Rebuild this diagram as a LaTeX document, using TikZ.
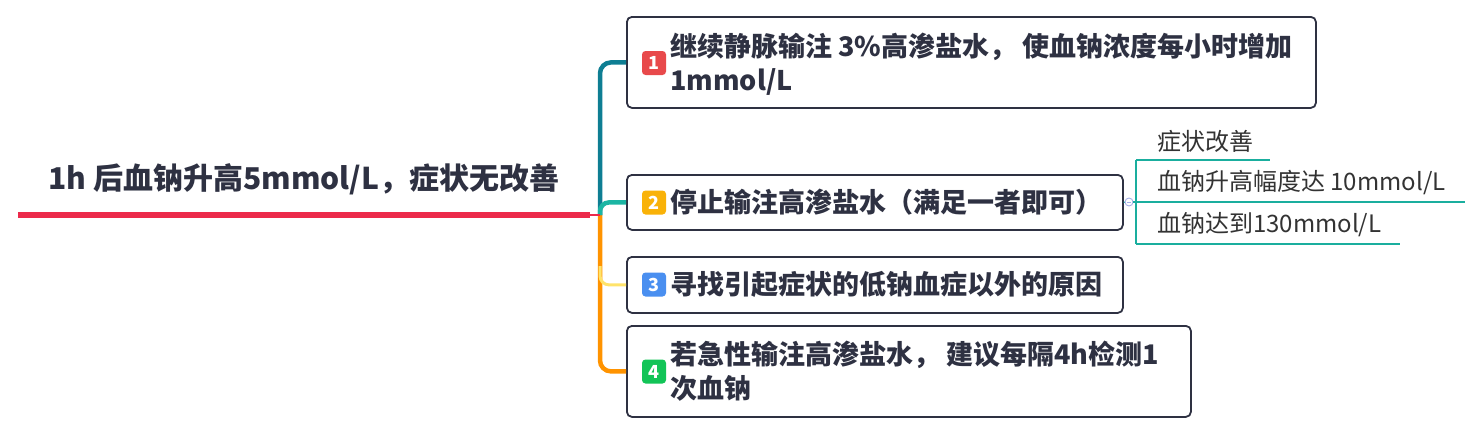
\documentclass[tikz,border=0pt]{standalone}
\usepackage{fontspec}
\setmainfont{Noto Sans CJK SC}
\definecolor{textc}{HTML}{2E3142}
\definecolor{rootred}{HTML}{EC2A4B}
\definecolor{tealA}{HTML}{0E7E93}
\definecolor{tealB}{HTML}{1BB5A3}
\definecolor{yelA}{HTML}{FFE36A}
\definecolor{oraA}{HTML}{FF9300}
\definecolor{bRed}{HTML}{E8494B}
\definecolor{bOra}{HTML}{F9B208}
\definecolor{bBlue}{HTML}{4A8FF0}
\definecolor{bGreen}{HTML}{12C457}
\definecolor{subc}{HTML}{1AAE9E}
\definecolor{circc}{HTML}{A7B0E8}
\definecolor{subtxtc}{HTML}{333333}
\begin{document}
\begin{tikzpicture}[x=1pt,y=-1pt,
  box/.style={draw=textc, line width=1.8pt, rounded corners=5pt, fill=white, anchor=north west, inner sep=0pt},
  badge/.style={fill=#1, rounded corners=3.5pt, minimum width=24pt, minimum height=24pt, inner sep=0pt, text=white, font=\bfseries\fontsize{18}{18}\selectfont},
  btxt/.style={anchor=west, inner sep=0pt, align=left, text=textc, font=\bfseries\fontsize{27}{34}\selectfont},
  roottxt/.style={inner sep=0pt, text=textc, font=\bfseries\fontsize{30}{34}\selectfont},
  subtxt/.style={anchor=west, inner sep=0pt, text=subtxtc, font=\fontsize{24}{28}\selectfont},
  branch/.style={line width=4.5pt, rounded corners=11pt},
  subl/.style={draw=subc, line width=1.3pt},
  circ/.style={circle, draw=circc, fill=white, line width=0.9pt, minimum size=8pt, inner sep=0pt}
]
\useasboundingbox (0,0) rectangle (1481,434);

% boxes
\node[box, minimum width=689pt, minimum height=91pt] (b1) at (626,16) {};
\node[box, minimum width=496pt, minimum height=55pt] (b2) at (626,174) {};
\node[box, minimum width=496pt, minimum height=56pt] (b3) at (626,256) {};
\node[box, minimum width=564pt, minimum height=91pt] (b4) at (626,325) {};

% connectors
\coordinate (j) at (600,215);
\coordinate (r0) at (18,215);
\coordinate (k3) at (600,266);
\draw[branch, draw=oraA] (j) |- (b4.west);
\draw[branch, draw=yelA, line width=3pt, rounded corners=9pt] (k3) |- (b3.west);
\draw[branch, draw=oraA] (j) -- ([yshift=-20pt]j);
\draw[branch, draw=tealA] (j) |- (b1.west);
\draw[branch, draw=tealB, rounded corners=9pt] (j) |- (b2.west);
\draw[rootred, line width=5.5pt] (r0) -- ([xshift=-10pt]j);
\draw[rootred, line width=1.5pt] ([xshift=-11pt]j) -- (j);

% root text
\node[roottxt] (root) at (304,179) {1h 后血钠升高5mmol/L，症状无改善};

% badges
\node[badge=bRed] (n1) at (654,63) {1};
\node[badge=bOra] (n2) at (654,202.5) {2};
\node[badge=bBlue] (n3) at (654,284.5) {3};
\node[badge=bGreen] (n4) at (654,371.5) {4};

% box texts
\node[btxt] (t1) at (670,64.5) {继续静脉输注 3\%高渗盐水， 使血钠浓度每小时增加\\1mmol/L};
\node[btxt] (t2) at (670,202) {停止输注高渗盐水（满足一者即可）};
\node[btxt] (t3) at (670,284) {寻找引起症状的低钠血症以外的原因};
\node[btxt] (t4) at (670,371.5) {若急性输注高渗盐水， 建议每隔4h检测1\\次血钠};

% sub items
\node[circ] (c) at (1129,202) {};
\draw[circc, line width=0.9pt] ([xshift=-2pt]c.center) -- ([xshift=2pt]c.center);
\coordinate (v1) at (1136,160);
\coordinate (v3) at (1136,244);
\coordinate (e1) at (1270,160);
\coordinate (e2) at (1465,202);
\coordinate (e3) at (1400,244);
\draw[subl] (b2.east) -- (c.west);
\draw[subl] (c.east) -- (e2);
\draw[subl] (v1) -- (v3);
\draw[subl] (v1) -- (e1);
\draw[subl] (v3) -- (e3);
\node[subtxt] (s1) at (1157,141) {症状改善};
\node[subtxt] (s2) at (1157,183) {血钠升高幅度达 10mmol/L};
\node[subtxt] (s3) at (1157,225) {血钠达到130mmol/L};
\end{tikzpicture}
\end{document}
